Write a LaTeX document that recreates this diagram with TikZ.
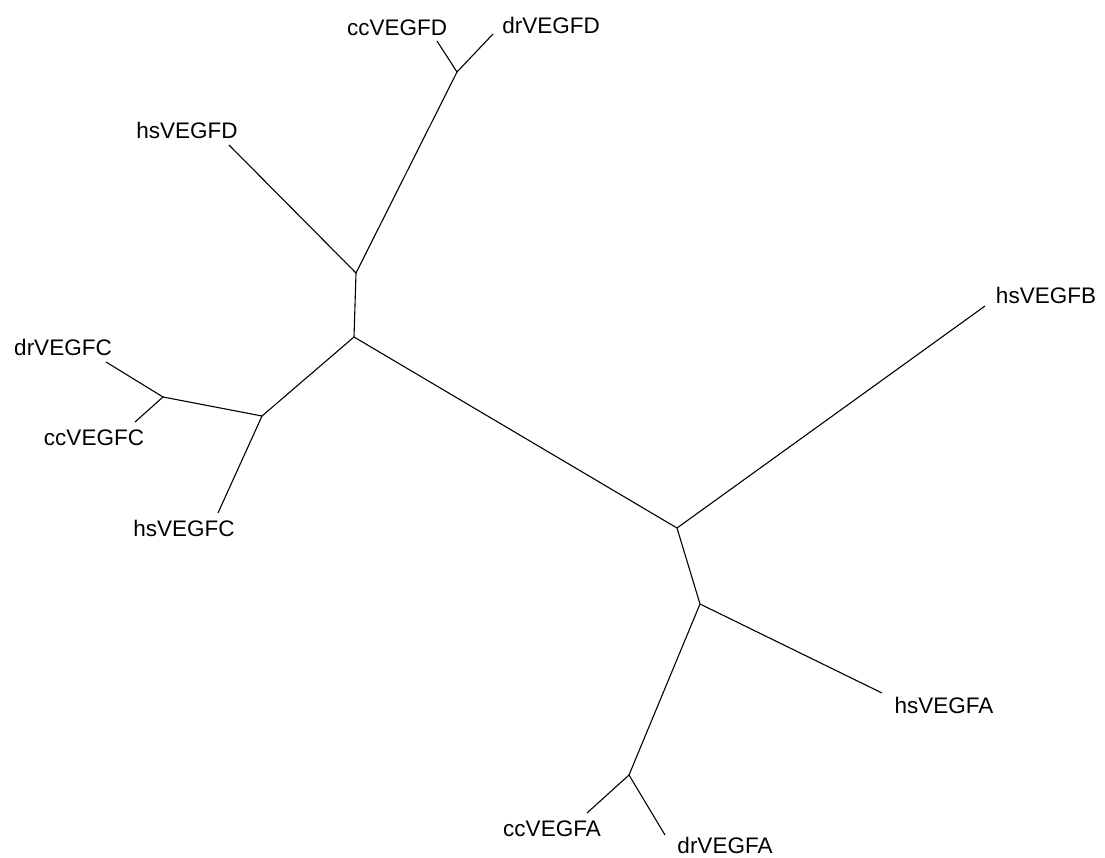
\documentclass[tikz,border=0pt]{standalone}
\usepackage{fontspec}
\setmainfont{Liberation Sans}
\begin{document}
\begin{tikzpicture}[x=1pt,y=-1pt,
  lbl/.style={inner sep=0pt,font=\fontsize{22.5}{23}\selectfont},
  branch/.style={line width=1.1pt,black}]
\useasboundingbox (0,0) rectangle (1105,858);
% junctions
\coordinate (jD) at (457,72);
\coordinate (jTop) at (356,273);
\coordinate (jMid) at (354,337);
\coordinate (jC) at (262,416);
\coordinate (jCin) at (163,397);
\coordinate (jCen) at (677,528);
\coordinate (jA1) at (700,604);
\coordinate (jA2) at (629,775);
% leaf ends
\coordinate (eccD) at (437,41);
\coordinate (edrD) at (493,34);
\coordinate (ehsD) at (229,145);
\coordinate (edrC) at (106,362);
\coordinate (eccC) at (135,422);
\coordinate (ehsC) at (218,513);
\coordinate (ehsB) at (985,306);
\coordinate (ehsA) at (882,693);
\coordinate (eccA) at (587,813);
\coordinate (edrA) at (665,835);
% labels
\node[lbl] (lccD) at (397,28) {ccVEGFD};
\node[lbl] (ldrD) at (551,25) {drVEGFD};
\node[lbl] (lhsD) at (187,130) {hsVEGFD};
\node[lbl] (ldrC) at (63,347) {drVEGFC};
\node[lbl] (lccC) at (94,438) {ccVEGFC};
\node[lbl] (lhsC) at (184,528) {hsVEGFC};
\node[lbl] (lhsB) at (1046,295) {hsVEGFB};
\node[lbl] (lhsA) at (944,705) {hsVEGFA};
\node[lbl] (lccA) at (552,829) {ccVEGFA};
\node[lbl] (ldrA) at (725,845) {drVEGFA};
% branches
\draw[branch] (eccD) -- (jD) -- (edrD);
\draw[branch] (jD) -- (jTop);
\draw[branch] (ehsD) -- (jTop) -- (jMid);
\draw[branch] (jMid) -- (jC);
\draw[branch] (jMid) -- (jCen);
\draw[branch] (jC) -- (jCin);
\draw[branch] (jC) -- (ehsC);
\draw[branch] (edrC) -- (jCin) -- (eccC);
\draw[branch] (jCen) -- (ehsB);
\draw[branch] (jCen) -- (jA1);
\draw[branch] (jA1) -- (ehsA);
\draw[branch] (jA1) -- (jA2);
\draw[branch] (eccA) -- (jA2) -- (edrA);
\end{tikzpicture}
\end{document}
